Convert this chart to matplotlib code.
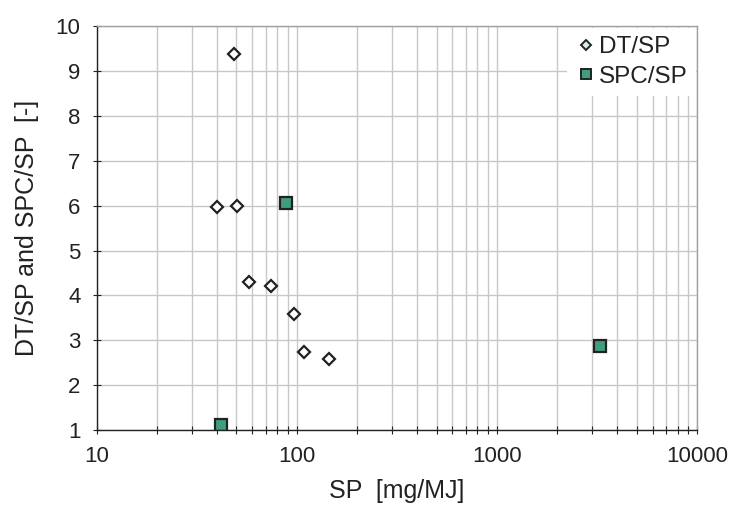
import matplotlib
matplotlib.use("Agg")
import matplotlib.pyplot as plt
from matplotlib.lines import Line2D
from matplotlib.ticker import LogLocator, FixedLocator, NullFormatter

plt.rcParams['font.family'] = ['Liberation Sans', 'DejaVu Sans']

dt_x = [48.4, 40.1, 50.5, 57.5, 74.7, 97.3, 109, 144.5]
dt_y = [9.38, 5.98, 6.0, 4.29, 4.22, 3.58, 2.73, 2.59]
spc_x = [88.7, 41.7, 3275]
spc_y = [6.06, 1.11, 2.88]

x_ticks = [10, 100, 1000, 10000]
x_ticklabels = ['10', '100', '1000', '10000']
y_ticks = [1, 2, 3, 4, 5, 6, 7, 8, 9, 10]

green = '#3f9e80'
ink = '#222222'

fig = plt.figure(figsize=(7.34, 5.09), dpi=100)
ax = fig.add_axes([0.1315, 0.1552, 0.8181, 0.7928])

ax.set_xscale('log')
ax.set_xlim(10, 10000)
ax.set_ylim(1, 10)

ax.xaxis.set_major_locator(FixedLocator(x_ticks))
ax.xaxis.set_minor_locator(LogLocator(base=10, subs=range(2, 10)))
ax.xaxis.set_minor_formatter(NullFormatter())
ax.set_xticks(x_ticks)
ax.set_xticklabels(x_ticklabels)
ax.set_yticks(y_ticks)

grid_col = '#c8c8c8'
ax.grid(True, which='major', axis='both', color=grid_col, lw=1.0)
ax.grid(True, which='minor', axis='x', color=grid_col, lw=1.0)
ax.set_axisbelow(True)

for s in ['top', 'right']:
    ax.spines[s].set_color('#a0a0a0')
    ax.spines[s].set_linewidth(1.0)
for s in ['left', 'bottom']:
    ax.spines[s].set_color(ink)
    ax.spines[s].set_linewidth(1.0)
for s in ax.spines.values():
    s.set_zorder(6)

ax.tick_params(axis='both', which='major', direction='inout', length=6, width=0.8,
               labelsize=16, colors=ink, top=False, right=False)
ax.tick_params(axis='x', which='minor', direction='inout', length=6, width=0.8,
               colors=ink, top=False)
ax.tick_params(axis='x', which='major', pad=8.5)
ax.tick_params(axis='y', which='major', pad=8.5)

ax.plot(dt_x, dt_y, linestyle='none', marker='D', ms=5.8, mfc='white',
        mec=ink, mew=1.6, zorder=3)
ax.plot(spc_x, spc_y, linestyle='none', marker='s', ms=8.3, mfc=green,
        mec=ink, mew=1.6, zorder=3)

ax.set_xlabel('SP  [mg/MJ]', fontsize=18, color=ink, labelpad=9)
ax.set_ylabel('DT/SP and SPC/SP  [-]', fontsize=18, color=ink, labelpad=12)

handles = [
    Line2D([], [], linestyle='none', marker='D', ms=4.6, mfc='#d6efe2',
           mec=ink, mew=1.4),
    Line2D([], [], linestyle='none', marker='s', ms=7.2, mfc=green,
           mec=ink, mew=1.4),
]
leg = ax.legend(handles, ['DT/SP', 'SPC/SP'], loc='upper right', fontsize=17.5,
                frameon=True, fancybox=False, borderpad=0.35, handletextpad=0.05,
                handlelength=0.9, labelspacing=0.3, borderaxespad=0.05)
leg.get_frame().set_edgecolor('white')
leg.get_frame().set_linewidth(0.0)
leg.get_frame().set_alpha(1.0)
for t in leg.get_texts():
    t.set_color(ink)

fig.savefig('out.png', dpi=100)
